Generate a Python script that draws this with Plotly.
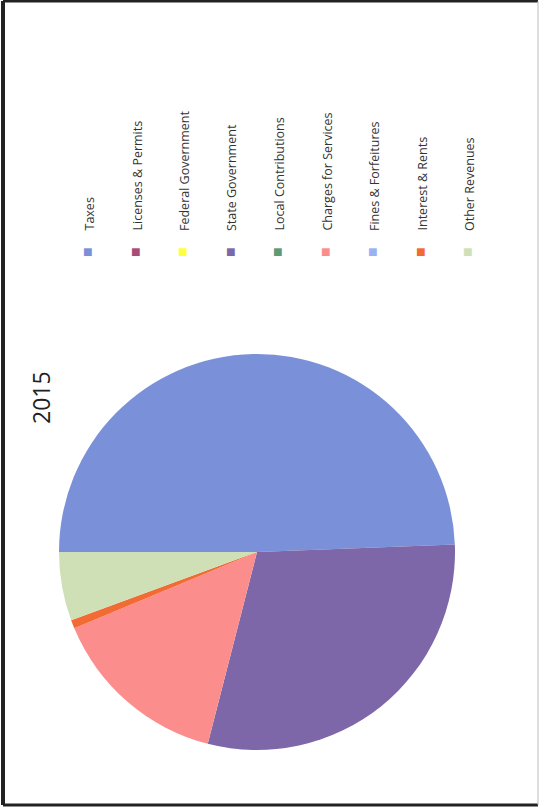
import plotly.graph_objects as go

W, H = 540, 810

title_text = "2015"
categories = ["Taxes", "Licenses & Permits", "Federal Government", "State Government",
              "Local Contributions", "Charges for Services", "Fines & Forfeitures",
              "Interest & Rents", "Other Revenues"]
values = [49.4, 0, 0, 29.6, 0, 14.7, 0, 0.7, 5.6]
colors = ["#7a90d8", "#a64d75", "#ffff3a", "#7d67a8", "#5f9a76",
          "#fb8e8c", "#9ab2f4", "#f26b35", "#d0e0b6"]


def px(x):
    return x / W


def py(y):
    return 1 - y / H


fig = go.Figure()
fig.add_trace(go.Pie(
    labels=categories, values=values, sort=False, direction="clockwise",
    rotation=270, marker=dict(colors=colors, line=dict(width=0)),
    textinfo="none", hoverinfo="label+value", showlegend=False,
    domain=dict(x=[px(59), px(455)], y=[py(751), py(353)]),
))

annotations = [dict(text=title_text, x=px(41), y=py(398), xref="paper", yref="paper",
                    textangle=-90, showarrow=False, xanchor="center", yanchor="middle",
                    font=dict(family="Open Sans", size=23, color="#222222"))]
x0, step = 88, 47.5
for i, (cat, col) in enumerate(zip(categories, colors)):
    xc = x0 + i * step
    annotations.append(dict(text="■", x=px(xc), y=py(251), xref="paper", yref="paper",
                            showarrow=False, xanchor="center", yanchor="middle",
                            font=dict(size=16, color=col)))
    annotations.append(dict(text=cat, x=px(xc + 1), y=py(233), xref="paper", yref="paper",
                            textangle=-90, showarrow=False, xanchor="center", yanchor="bottom",
                            font=dict(family="Open Sans", size=12.5, color="#333333")))

dark = dict(color="#222222", width=3)
fig.update_layout(
    width=W, height=H, margin=dict(l=0, r=0, t=0, b=0),
    paper_bgcolor="white", plot_bgcolor="white",
    annotations=annotations,
    shapes=[
        dict(type="line", xref="paper", yref="paper", x0=px(3), x1=px(3), y0=py(805), y1=py(1), line=dict(color="#222222", width=4)),
        dict(type="line", xref="paper", yref="paper", x0=px(3), x1=px(538), y0=py(1), y1=py(1), line=dark),
        dict(type="line", xref="paper", yref="paper", x0=px(3), x1=px(538), y0=py(805), y1=py(805), line=dark),
        dict(type="line", xref="paper", yref="paper", x0=px(538), x1=px(538), y0=py(805), y1=py(1), line=dict(color="#bbbbbb", width=1)),
    ],
)

fig.write_html("out.html", config={"displayModeBar": False},
               post_script="document.body.style.margin='0';document.body.style.overflow='hidden';")
